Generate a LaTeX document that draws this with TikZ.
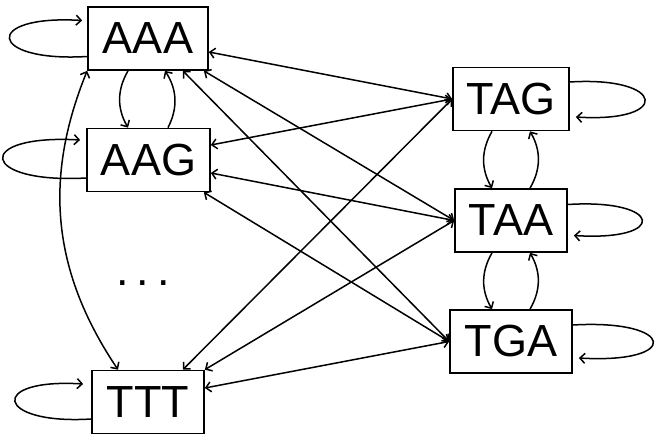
\documentclass[tikz,border=0pt]{standalone}
\usepackage{fontspec}
\setmainfont{Liberation Sans}
\usetikzlibrary{arrows.meta}
\begin{document}
\begin{tikzpicture}[x=1pt,y=-1pt,
  state/.style={draw, line width=1.7pt, minimum height=63pt, minimum width=#1, inner xsep=0pt, inner ysep=0pt, font=\fontsize{45}{54}\selectfont},
  edge/.style={line width=1.5pt, {Straight Barb[length=5pt,width=10pt]}-{Straight Barb[length=5pt,width=10pt]}},
  arc/.style={line width=1.5pt, -{Straight Barb[length=5pt,width=10pt]}}]
\useasboundingbox (0,0) rectangle (658,443);
\node[state=120pt] (AAA) at (148,38.5) {AAA};
\node[state=123pt] (AAG) at (148.5,160) {AAG};
\node[state=112pt] (TTT) at (148,402) {TTT};
\node[state=116pt] (TAG) at (511,99) {TAG};
\node[state=112pt] (TAA) at (511,220.5) {TAA};
\node[state=122pt] (TGA) at (511,341.5) {TGA};
\node[font=\fontsize{45}{54}\selectfont, inner sep=0pt] (dots) at (143,283) {.\hspace{8pt}.\hspace{8pt}.};

% cross edges
\draw[edge] ([yshift=-13.5pt]AAA.east) -- (TAG.west);
\draw[edge] ([xshift=-5pt]AAA.south east) -- (TAA.west);
\draw[edge] ([xshift=-26pt]AAA.south east) -- (TGA.west);
\draw[edge] ([yshift=15pt]AAG.east) -- (TAG.west);
\draw[edge] ([yshift=-13pt]AAG.east) -- (TAA.west);
\draw[edge] ([xshift=-7pt]AAG.south east) -- (TGA.west);
\draw[edge] ([xshift=-22pt]TTT.north east) -- (TAG.west);
\draw[edge] (TTT.north east) -- (TAA.west);
\draw[edge] ([yshift=14pt]TTT.east) -- (TGA.west);

% vertical pairs
\draw[arc] ([xshift=-20pt]AAA.south) to[bend right=30] ([xshift=-20.5pt]AAG.north);
\draw[arc] ([xshift=19.5pt]AAG.north) to[bend right=30] ([xshift=17pt]AAA.south);
\draw[arc] ([xshift=-19pt]TAG.south) to[bend right=30] ([xshift=-19pt]TAA.north);
\draw[arc] ([xshift=19pt]TAA.north) to[bend right=30] ([xshift=19pt]TAG.south);
\draw[arc] ([xshift=-19pt]TAA.south) to[bend right=30] ([xshift=-19pt]TGA.north);
\draw[arc] ([xshift=19pt]TGA.north) to[bend right=30] ([xshift=19pt]TAA.south);

% long curve
\draw[edge] ([xshift=-30pt]TTT.north) to[bend left=28] (AAA.south west);

% self loops
\draw[arc] ([yshift=-18pt]AAA.west) .. controls +(-100,6) and +(-100,-6) .. ([xshift=-5pt,yshift=18pt]AAA.west);
\draw[arc] ([yshift=-18pt]AAG.west) .. controls +(-107,6) and +(-107,-6) .. ([xshift=-6pt,yshift=20pt]AAG.west);
\draw[arc] ([yshift=-17pt]TTT.west) .. controls +(-96,6) and +(-96,-6) .. ([xshift=-8pt,yshift=18pt]TTT.west);
\draw[arc] ([yshift=17pt]TAG.east) .. controls +(96,-6) and +(96,6) .. ([xshift=6pt,yshift=-18pt]TAG.east);
\draw[arc] ([yshift=16pt]TAA.east) .. controls +(95,-6) and +(95,6) .. ([xshift=6pt,yshift=-15pt]TAA.east);
\draw[arc] ([yshift=16.5pt]TGA.east) .. controls +(103,-6) and +(103,6) .. ([xshift=6pt,yshift=-16.5pt]TGA.east);
\end{tikzpicture}
\end{document}
